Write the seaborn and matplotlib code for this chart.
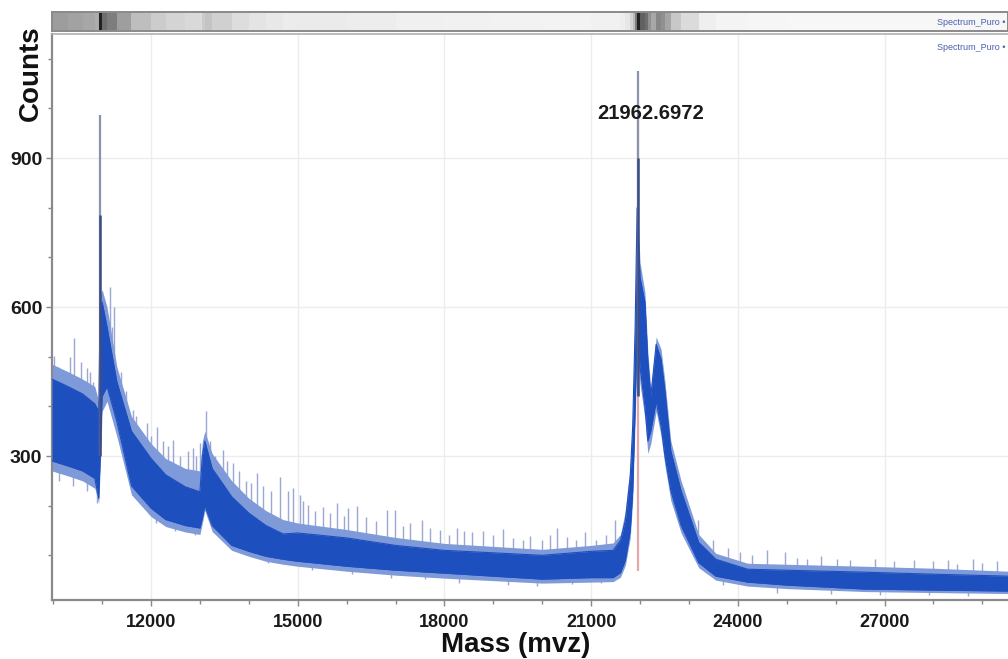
import numpy as np
import matplotlib
matplotlib.use("Agg")
import matplotlib.pyplot as plt
from matplotlib.ticker import MultipleLocator
import seaborn as sns

# ---------------- data ----------------
env_mass = [9975, 10300, 10600, 10850, 10930, 10960, 11000, 11100, 11300, 11600,
            12000, 12300, 12700, 13000, 13050, 13100, 13250, 13650, 14000, 14350,
            14700, 15000, 16000, 17000, 18000, 19000, 20000, 21000, 21450, 21600,
            21700, 21800, 21850, 21900, 21940, 22000, 22100, 22160, 22220, 22330,
            22430, 22510, 22630, 22840, 23200, 23550, 24200, 25000, 26600, 28000, 29525]
band_low = [290, 280, 270, 255, 215, 300, 420, 440, 370, 240,
            195, 172, 160, 155, 175, 200, 160, 120, 108, 98,
            92, 88, 78, 70, 64, 58, 52, 55, 55, 65,
            90, 150, 230, 400, 550, 480, 400, 330, 350, 410,
            360, 300, 230, 160, 85, 58, 46, 40, 32, 30, 28]
band_high = [455, 440, 425, 405, 390, 600, 610, 560, 450, 350,
             295, 262, 238, 228, 300, 330, 275, 218, 185, 160,
             143, 145, 135, 120, 110, 105, 100, 108, 110, 130,
             170, 260, 360, 560, 800, 660, 610, 490, 420, 525,
             495, 430, 310, 230, 126, 92, 72, 70, 66, 62, 58]
fringe_low = [270, 260, 250, 235, 205, 270, 390, 410, 340, 222,
              178, 158, 147, 142, 165, 190, 148, 110, 98, 88,
              82, 78, 68, 60, 54, 49, 44, 46, 47, 56,
              80, 135, 210, 370, 510, 445, 375, 305, 325, 390,
              340, 280, 210, 145, 75, 50, 38, 33, 27, 25, 23]
fringe_high = [485, 470, 455, 440, 410, 625, 635, 600, 480, 380,
               325, 295, 275, 270, 330, 350, 305, 250, 215, 190,
               172, 165, 152, 136, 124, 118, 112, 120, 125, 142,
               190, 280, 385, 600, 830, 690, 630, 510, 435, 540,
               515, 450, 330, 250, 142, 104, 84, 82, 78, 74, 68]

spike_mass = [10012, 10100, 10200, 10350, 10420, 10500, 10560, 10690, 10750, 10820,
              11160, 11200, 11245, 11380, 11480, 11630, 11700, 11800, 11920, 12000,
              12120, 12250, 12350, 12450, 12600, 12750, 12860, 12920, 13000, 13125,
              13200, 13300, 13470, 13550, 13680, 13800, 13950, 14050, 14170, 14300,
              14450, 14640, 14800, 14900, 15050, 15100, 15210, 15350, 15520, 15650,
              15800, 15950, 16030, 16210, 16400, 16600, 16830, 16990, 17150, 17300,
              17540, 17700, 17900, 18100, 18260, 18400, 18560, 18790, 19000, 19200,
              19400, 19600, 19750, 20000, 20150, 20300, 20510, 20700, 20875, 21100,
              21300, 21490, 22880, 23190, 23500, 23800, 24045, 24300, 24600, 24965,
              25200, 25415, 25700, 26030, 26300, 26800, 27200, 27600, 28000, 28300,
              28480, 28810, 29000, 29300]
spike_counts = [502, 480, 470, 500, 538, 460, 490, 478, 470, 450,
                640, 560, 600, 470, 430, 392, 380, 350, 366, 340,
                358, 330, 320, 332, 300, 310, 316, 300, 326, 390,
                330, 300, 312, 290, 286, 270, 250, 245, 266, 240,
                230, 258, 230, 236, 222, 210, 202, 190, 198, 185,
                206, 180, 196, 200, 178, 170, 192, 192, 160, 166,
                172, 155, 150, 140, 156, 148, 146, 148, 140, 152,
                135, 130, 138, 130, 140, 156, 136, 130, 146, 130,
                140, 172, 236, 172, 130, 115, 106, 100, 110, 106,
                95, 92, 98, 92, 90, 92, 88, 90, 88, 90,
                82, 92, 85, 88]

dip_mass = [10120, 10400, 10700, 10900, 12100, 12500, 12900, 13700, 14400, 15300,
            16100, 16900, 17600, 18300, 19300, 19900, 20600, 21200, 23700, 24800,
            25900, 26900, 27900, 28700]
dip_counts = [250, 240, 230, 205, 165, 148, 140, 110, 85, 70,
              62, 55, 52, 45, 40, 38, 42, 45, 40, 25,
              22, 20, 20, 18]

peak_mass = [10957, 21959]
peak_counts = [986, 1076]
peak_label = "21962.6972"

x_ticks = [12000, 15000, 18000, 21000, 24000, 27000]
y_ticks = [300, 600, 900]

# ---------------- style ----------------
sns.set_theme(style="white")
plt.rcParams['font.family'] = ['Liberation Sans', 'DejaVu Sans']

W, H = 1008, 659
fig = plt.figure(figsize=(W / 100, H / 100), dpi=100)
ax = fig.add_axes([52 / W, (H - 600) / H, (W - 52) / W, (600 - 34) / H])
ax_s = fig.add_axes([52 / W, (H - 31) / H, (W - 52) / W, 19 / H])

dark = "#1d4fbf"
light = "#7f9ad8"
spike_c = "#9aa8d2"

# light fringe
ax.fill_between(env_mass, fringe_low, fringe_high, color=light, lw=0, zorder=2)
# spikes up and down
base_up = np.interp(spike_mass, env_mass, band_low)
ax.vlines(spike_mass, base_up, spike_counts, color=spike_c, lw=1.0, zorder=1.5)
base_dn = np.interp(dip_mass, env_mass, band_high)
ax.vlines(dip_mass, dip_counts, base_dn, color=spike_c, lw=1.0, zorder=1.5)
# dense band
ax.fill_between(env_mass, band_low, band_high, color=dark, lw=0, zorder=3)
sns.lineplot(x=env_mass, y=band_high, ax=ax, color=dark, lw=0.8, zorder=3)
sns.lineplot(x=env_mass, y=band_low, ax=ax, color=dark, lw=0.8, zorder=3)

# peak sticks
ax.vlines([peak_mass[1]], 68, 1000, color="#e2a8a8", lw=1.6, zorder=2.5)
ax.vlines(peak_mass, [300, 420], peak_counts, color="#8a93ac", lw=1.6, zorder=4)
ax.vlines(peak_mass, [300, 420], [786, 900], color="#3c4c86", lw=1.8, zorder=4.5)

ax.annotate(peak_label, xy=(peak_mass[1], 990), xytext=(9, 0), textcoords="offset points",
            ha="center", va="center", fontsize=14.5, fontweight="bold", color="#1a1a1a",
            zorder=6)

ax.set_xlim(9975, 29525)
ax.set_ylim(10, 1150)
ax.set_xticks(x_ticks)
ax.set_yticks(y_ticks)
ax.set_xticklabels([str(t) for t in x_ticks])
ax.set_yticklabels([str(t) for t in y_ticks])
ax.xaxis.set_minor_locator(MultipleLocator(1000))
ax.yaxis.set_minor_locator(MultipleLocator(100))
ax.tick_params(axis="both", which="both", direction="out", color="#888888",
               bottom=True, left=True, labelcolor="#1a1a1a")
ax.tick_params(axis="x", labelsize=13, pad=6)
ax.tick_params(axis="y", labelsize=14, pad=3)
ax.tick_params(which="major", length=4, width=1)
ax.tick_params(which="minor", length=3, width=1)
for lab in ax.get_xticklabels() + ax.get_yticklabels():
    lab.set_fontweight("bold")

ax.grid(True, which="major", color="#ececec", lw=1)
for side in ("left", "bottom"):
    ax.spines[side].set_color("#8a8a8a")
    ax.spines[side].set_linewidth(1.6)
ax.spines["top"].set_color("#b0b0b0")
ax.spines["top"].set_linewidth(1.2)
ax.spines["right"].set_visible(False)

ax.set_xlabel("Mass (mvz)", fontsize=20, fontweight="bold", color="#111111")
ax.set_ylabel("Counts", fontsize=20, fontweight="bold", color="#111111")
ax.xaxis.set_label_coords(0.485, -0.057)
ax.yaxis.set_label_coords(-0.009, 0.93)

ax.text(0.997, 0.977, "Spectrum_Puro •", transform=ax.transAxes, ha="right", va="center",
        fontsize=6.5, color="#4a5fb0")

# ---------------- top gel strip ----------------
C = np.array(band_high[:-1], dtype=float)[None, :]
ax_s.pcolormesh(env_mass, [0, 1], C, cmap="Greys", vmin=0, vmax=950, shading="flat")
ax_s.vlines(peak_mass, 0, 1, color="#222222", lw=2.2)
ax_s.set_xlim(9975, 29525)
ax_s.set_ylim(0, 1)
ax_s.set_xticks([])
ax_s.set_yticks([])
for sp in ax_s.spines.values():
    sp.set_color("#8a8a8a")
    sp.set_linewidth(1.4)
ax_s.text(0.997, 0.45, "Spectrum_Puro •", transform=ax_s.transAxes, ha="right", va="center",
          fontsize=6.5, color="#4a5fb0")

fig.savefig("out.png", dpi=100)
